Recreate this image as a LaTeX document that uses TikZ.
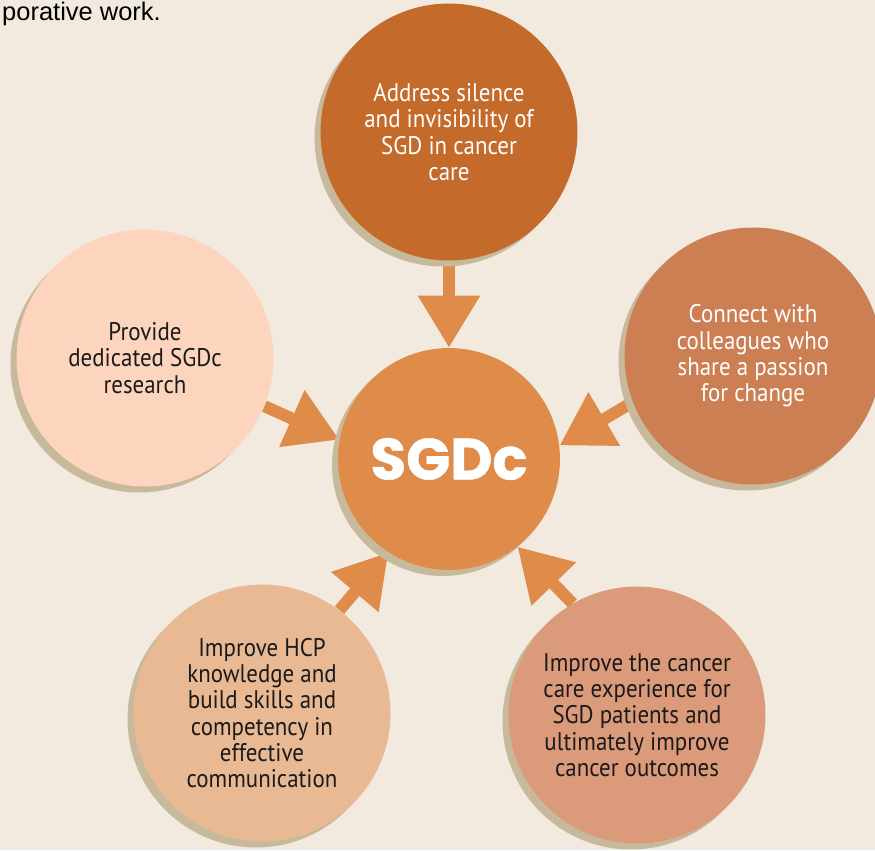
\documentclass[tikz,border=0pt]{standalone}
\usepackage{fontspec}
\setmainfont{PT Sans}[FakeStretch=0.9]
\newfontfamily\titlefont{Poppins}[BoldFeatures={FakeBold=1}]
\newfontfamily\introfont{Liberation Sans}
\usetikzlibrary{positioning,shadows,arrows.meta}

\definecolor{paper}{HTML}{F2EADF}
\definecolor{rust}{HTML}{C46A2A}
\definecolor{hubcol}{HTML}{DF8C4A}
\definecolor{peach}{HTML}{FDD5BE}
\definecolor{clay}{HTML}{CC7F52}
\definecolor{sand}{HTML}{E8B993}
\definecolor{salmon}{HTML}{DB9A7A}
\definecolor{shade}{HTML}{C7B99B}
\definecolor{ink}{HTML}{1A1A1A}

\pgfdeclarelayer{bg}
\pgfdeclarelayer{arrowlayer}
\pgfsetlayers{bg,arrowlayer,main}

\begin{document}
\begin{tikzpicture}[x=0.02cm,y=-0.02cm,
    goal/.style={circle,inner sep=0pt,minimum size=5.14cm,align=center,
      font=\fontsize{14.5}{15}\selectfont,
      drop shadow={shadow xshift=-0.12cm,shadow yshift=-0.12cm,
        fill=shade,opacity=1}},
    fatarrow/.style={draw=hubcol,line width=0.24cm,
      -{Triangle[width=1.18cm,length=1.04cm]}}]
  \useasboundingbox (0,0) rectangle (875,850);
  \begin{pgfonlayer}{bg}
    \fill[paper] (0,0) rectangle (875,850);
  \end{pgfonlayer}

  \node[anchor=base west,font=\introfont\fontsize{14.5}{17}\selectfont] (intro) at (-4,20) {porative work.};

  \node[goal,minimum size=4.44cm,fill=hubcol,text=white,
    font=\titlefont\bfseries\fontsize{33}{36}\selectfont] (sgdc) at (449,459) {SGDc};
  \node[goal,fill=rust,text=white] (address) at (449,132)
    {Address silence\\and invisibility of\\SGD in cancer\\care};
  \node[goal,fill=peach,text=ink] (research) at (145,358)
    {Provide\\dedicated SGDc\\research};
  \node[goal,fill=clay,text=white] (connect) at (753,356)
    {Connect with\\colleagues who\\share a passion\\for change};
  \node[goal,fill=sand,text=ink] (hcp) at (262,713)
    {Improve HCP\\knowledge and\\build skills and\\competency in\\effective\\communication};
  \node[goal,fill=salmon,text=ink] (outcomes) at (637,715)
    {Improve the cancer\\care experience for\\SGD patients and\\ultimately improve\\cancer outcomes};

  \begin{pgfonlayer}{arrowlayer}
    \path
    (address.-90)  edge[fatarrow] (sgdc.90)
    (research.-22) edge[fatarrow] (sgdc.170)
    (connect.201)  edge[fatarrow] (sgdc.7)
    (hcp.53)       edge[fatarrow] (sgdc.237)
    (outcomes.120) edge[fatarrow] (sgdc.-52);
  \end{pgfonlayer}
\end{tikzpicture}
\end{document}
